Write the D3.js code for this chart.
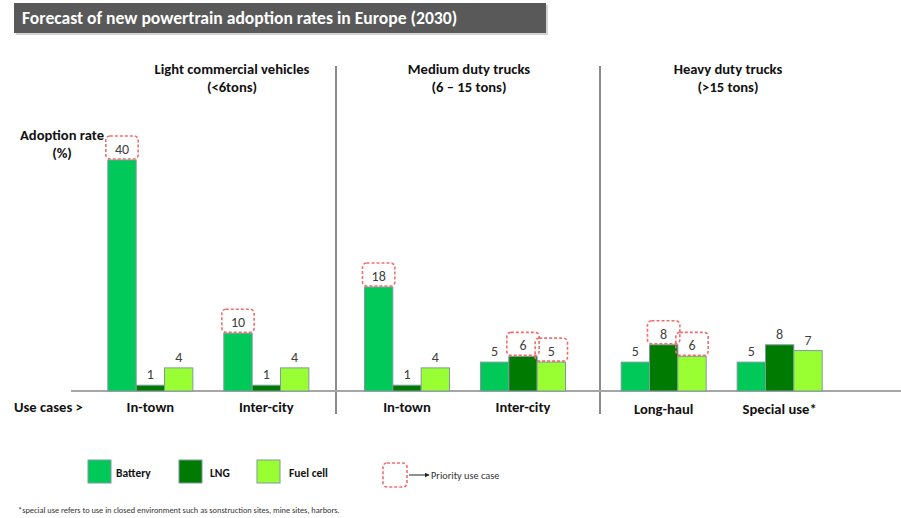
<!DOCTYPE html>
<html>
<head>
<meta charset="utf-8">
<script src="https://cdn.jsdelivr.net/npm/d3@7"></script>
<style>
  html, body { margin: 0; padding: 0; background: #fff; }
  svg { display: block; font-family: Carlito, Lato, "Open Sans", sans-serif; }
</style>
</head>
<body>
<svg id="chart" width="901" height="518"></svg>
<script>
// Vehicle segments and their use cases
const segments = ["Light commercial vehicles", "Medium duty trucks", "Heavy duty trucks"];
const segmentSubtitles = ["(<6tons)", "(6 – 15 tons)", "(>15 tons)"];
const useCases = [
  ["In-town", "Inter-city"],
  ["In-town", "Inter-city"],
  ["Long-haul", "Special use*"]
];
const series = ["Battery", "LNG", "Fuel cell"];

// Adoption rate (%) per use case: Battery, LNG, Fuel cell
const batteryValues  = [40, 10, 18, 5, 5, 5];
const lngValues      = [1, 1, 1, 6, 8, 8];
const fuelCellValues = [4, 4, 4, 5, 6, 7];

// Priority use cases, flagged per use case in series order
const priorityFlags = [
  [true, false, false],
  [true, false, false],
  [true, false, false],
  [false, true, true],
  [false, true, true],
  [false, false, false]
];

const colors = ["#00c95a", "#007a00", "#99ff33"];

const svg = d3.select("#chart");
const W = 901;
const ink = "#111";

// Title banner
svg.append("rect").attr("x", 16).attr("y", 5).attr("width", 532).attr("height", 30)
  .attr("fill", "#d4d4d4");
svg.append("rect").attr("x", 14).attr("y", 3).attr("width", 532).attr("height", 30)
  .attr("fill", "#595959");
svg.append("text").attr("x", 22).attr("y", 24)
  .attr("fill", "#fff").attr("font-size", 17.6).attr("font-weight", "bold")
  .text("Forecast of new powertrain adoption rates in Europe (2030)");

// Scales
const baseY = 391;
const y = d3.scaleLinear().domain([0, 40]).range([baseY, 160]);

const xSeg = d3.scaleBand().domain(d3.range(segments.length)).range([80, 850]);
const xCase = d3.scaleBand().domain([0, 1]).range([0, xSeg.bandwidth()])
  .paddingInner(0.267).paddingOuter(0.24);
const xSeries = d3.scaleBand().domain(series).range([0, xCase.bandwidth()]);

// Flatten to one row per bar
const rows = [];
useCases.forEach((cases, s) => {
  cases.forEach((name, c) => {
    const i = s * 2 + c;
    const vals = [batteryValues[i], lngValues[i], fuelCellValues[i]];
    series.forEach((ser, k) => {
      rows.push({
        seg: s, caseIdx: c, useCase: name, series: ser, k,
        value: vals[k], priority: priorityFlags[i][k],
        x: xSeg(s) + xCase(c) + xSeries(ser)
      });
    });
  });
});

// Segment dividers
const dividers = [336, 600];
svg.selectAll("line.divider").data(dividers).join("line")
  .attr("class", "divider")
  .attr("x1", d => d).attr("x2", d => d)
  .attr("y1", 66).attr("y2", 414)
  .attr("stroke", "#8c8c8c").attr("stroke-width", 2);

// Segment headers
const headerCenters = [232, 469, 728];
segments.forEach((name, s) => {
  const t = svg.append("text").attr("text-anchor", "middle")
    .attr("font-size", 14.6).attr("font-weight", "bold").attr("fill", ink);
  t.append("tspan").attr("x", headerCenters[s]).attr("y", 74).text(name);
  t.append("tspan").attr("x", headerCenters[s]).attr("y", 92).text(segmentSubtitles[s]);
});

// Y label
const yl = svg.append("text").attr("text-anchor", "middle")
  .attr("font-size", 14.6).attr("font-weight", "bold").attr("fill", ink);
yl.append("tspan").attr("x", 62).attr("y", 140).text("Adoption rate");
yl.append("tspan").attr("x", 62).attr("y", 158).text("(%)");

// Baseline
svg.append("line").attr("x1", 71).attr("x2", W).attr("y1", baseY).attr("y2", baseY)
  .attr("stroke", "#a6a6a6").attr("stroke-width", 2);

// Bars
svg.selectAll("rect.bar").data(rows).join("rect")
  .attr("class", "bar")
  .attr("x", d => d.x)
  .attr("y", d => y(d.value))
  .attr("width", xSeries.bandwidth())
  .attr("height", d => baseY - y(d.value))
  .attr("fill", d => colors[d.k])
  .attr("stroke", "#7e9aa0").attr("stroke-width", 1);

// Value labels
svg.selectAll("text.val").data(rows).join("text")
  .attr("class", "val")
  .attr("x", d => d.x + xSeries.bandwidth() / 2)
  .attr("y", d => y(d.value) - 6)
  .attr("text-anchor", "middle")
  .attr("font-size", 14).attr("fill", "#404040")
  .text(d => d.value);

// Priority markers
svg.selectAll("rect.prio").data(rows.filter(d => d.priority)).join("rect")
  .attr("class", "prio")
  .attr("x", d => d.x - 2)
  .attr("y", d => y(d.value) - 24)
  .attr("width", xSeries.bandwidth() + 4)
  .attr("height", 23)
  .attr("rx", 4)
  .attr("fill", "none")
  .attr("stroke", "#f26d6d").attr("stroke-width", 1.6)
  .attr("stroke-dasharray", "3,2");

// Use case labels
const caseLabels = [];
useCases.forEach((cases, s) => cases.forEach((name, c) => caseLabels.push({ s, c, name })));
svg.selectAll("text.case").data(caseLabels).join("text")
  .attr("class", "case")
  .attr("x", d => xSeg(d.s) + xCase(d.c) + xCase.bandwidth() / 2)
  .attr("y", d => d.s === 2 ? 414 : 412)
  .attr("text-anchor", "middle")
  .attr("font-size", 14.6).attr("font-weight", "bold").attr("fill", ink)
  .text(d => d.name);

svg.append("text").attr("x", 14).attr("y", 412)
  .attr("font-size", 14.6).attr("font-weight", "bold").attr("fill", ink)
  .text("Use cases >");

// Legend
const legendX = [88, 179, 257];
const legendTextX = [116, 210, 289];
series.forEach((name, k) => {
  svg.append("rect").attr("x", legendX[k]).attr("y", 460).attr("width", 23).attr("height", 23)
    .attr("fill", colors[k]).attr("stroke", "#7e9aa0").attr("stroke-width", 1);
  svg.append("text").attr("x", legendTextX[k]).attr("y", 477)
    .attr("font-size", 11.5).attr("font-weight", "bold").attr("fill", ink)
    .text(name);
});
svg.append("rect").attr("x", 383).attr("y", 463).attr("width", 24).attr("height", 24)
  .attr("rx", 4).attr("fill", "none")
  .attr("stroke", "#f26d6d").attr("stroke-width", 1.6).attr("stroke-dasharray", "3,2");
svg.append("defs").append("marker").attr("id", "arrow")
  .attr("viewBox", "0 0 10 10").attr("refX", 9).attr("refY", 5)
  .attr("markerWidth", 5).attr("markerHeight", 5).attr("orient", "auto")
  .append("path").attr("d", "M0,0 L10,5 L0,10 Z").attr("fill", "#222");
svg.append("line").attr("x1", 409).attr("x2", 429).attr("y1", 475).attr("y2", 475)
  .attr("stroke", "#222").attr("stroke-width", 1).attr("marker-end", "url(#arrow)");
svg.append("text").attr("x", 431).attr("y", 479)
  .attr("font-size", 10.3).attr("fill", "#333")
  .text("Priority use case");

// Footnote
svg.append("text").attr("x", 18).attr("y", 513)
  .attr("font-size", 8.4).attr("fill", "#333")
  .text("*special use refers to  use in closed environment  such as sonstruction sites, mine sites, harbors.");
</script>
</body>
</html>
